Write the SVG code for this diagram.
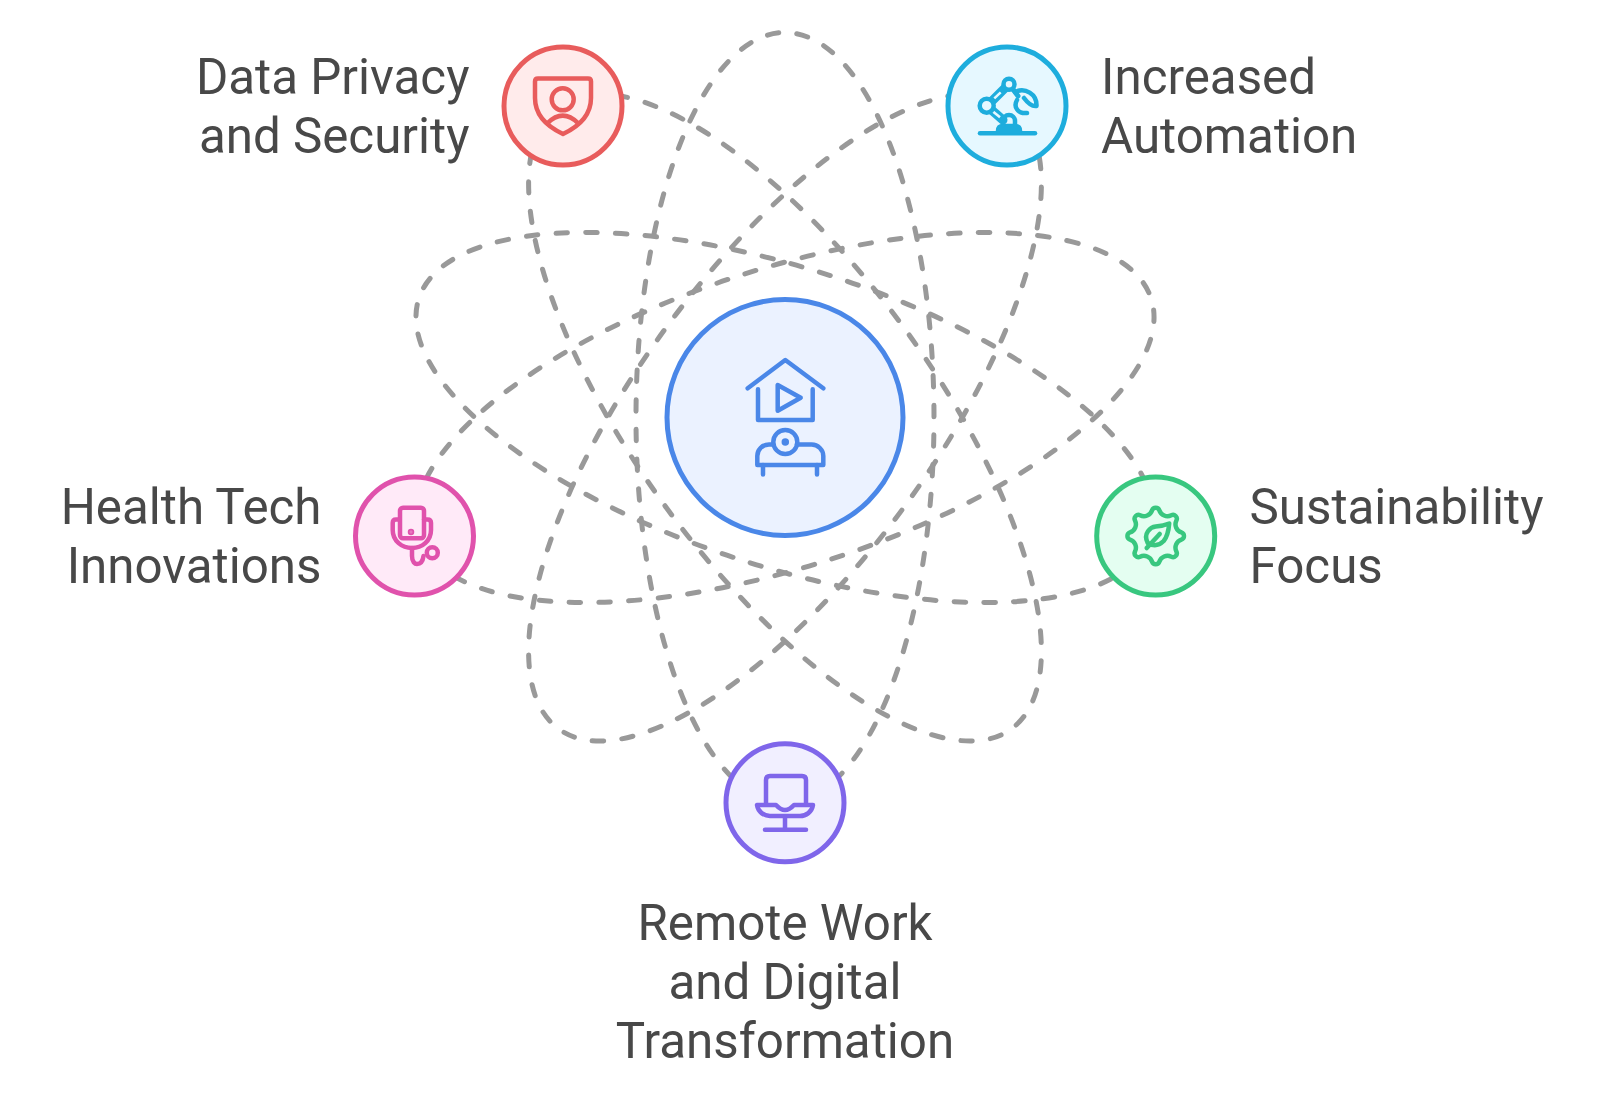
<svg xmlns="http://www.w3.org/2000/svg" width="1600" height="1100" viewBox="0 0 1600 1100">
<style>
.orbit{fill:none;stroke:#999;stroke-width:5;stroke-linecap:round;stroke-dasharray:11.5 18.2;stroke-dashoffset:-0.8}
.ic{fill:none;stroke-width:4.5;stroke-linecap:round;stroke-linejoin:round}
.lb{font-family:Roboto,"Liberation Sans",sans-serif;font-size:49.3px;fill:#484848}
.ci{stroke-width:5}
</style>
<rect width="1600" height="1100" fill="#fff"/>
<g id="connectors">
<ellipse class="orbit" cx="785" cy="417.5" rx="385" ry="149" transform="rotate(90 785 417.5)"/>
<ellipse class="orbit" cx="785" cy="417.5" rx="385" ry="149" transform="rotate(18 785 417.5)"/>
<ellipse class="orbit" cx="785" cy="417.5" rx="385" ry="149" transform="rotate(162 785 417.5)"/>
<ellipse class="orbit" cx="785" cy="417.5" rx="385" ry="149" transform="rotate(234 785 417.5)"/>
<ellipse class="orbit" cx="785" cy="417.5" rx="385" ry="149" transform="rotate(306 785 417.5)"/>
</g>
<g id="node-center">
<circle class="ci" cx="785" cy="417.5" r="118" fill="#EBF2FF" stroke="#4A87E8"/>
<g class="ic" stroke="#4A87E8">
<path d="M747.7,388.3 L785.3,360 L823.3,388.3"/>
<path d="M758,389.3 V420 H812.7 V389.3"/>
<path d="M777.7,385 V410.7 L800.7,397.7 Z"/>
<circle cx="785.3" cy="442" r="12"/>
<circle cx="785.3" cy="442" r="1.5" fill="#4A87E8"/>
<path d="M773,444.5 H769 C762,444.5 757.3,450 757.3,456 V465 H823.3 V456 C823.3,450 818,444.5 811.7,444.5 H797"/>
<path d="M763,465 V474.5 M817,465 V474.5"/>
</g>
</g>
<g id="node-data-privacy">
<circle class="ci" cx="563" cy="106" r="59" fill="#FFEBEB" stroke="#E85C5C"/>
<g class="ic" stroke="#E85C5C">
<path d="M538,78.5 H588 Q591,78.5 591,81.5 V98 C591,115 580,126 563,134 C546,126 535,115 535,98 V81.5 Q535,78.5 538,78.5 Z"/>
<circle cx="562.7" cy="99.3" r="11"/>
<path d="M547.3,123.3 Q562.7,108 578.3,123.3"/>
</g>
<text class="lb" text-anchor="end" x="469.5" y="94">Data Privacy</text>
<text class="lb" text-anchor="end" x="469.5" y="153">and Security</text>
</g>
<g id="node-automation">
<circle class="ci" cx="1007" cy="106" r="59" fill="#E6F8FF" stroke="#1EADDD"/>
<g class="ic" stroke="#1EADDD">
<path d="M980,133.3 H1035"/>
<path d="M998,131 Q998,126 1003,126 H1015 Q1020,126 1020,131 Z" fill="#1EADDD"/>
<path d="M1003,125 V121 A6,6 0 0 1 1015,121 V125"/>
<path d="M987,106 L1009,84" stroke-width="9"/>
<path d="M987,106 L1003,120" stroke-width="9"/>
<path d="M994.3,98.3 L1000.7,92.3 M992.3,111 L1000,117.3" stroke="#E6F8FF" stroke-width="2.5" stroke-linecap="butt"/>
<path d="M1009,84 L1018,96" stroke-width="5"/>
<circle cx="986.7" cy="105.7" r="7" fill="#E6F8FF"/>
<circle cx="1009" cy="84.3" r="5.5" fill="#E6F8FF"/>
<path d="M1015,92 C1025,87 1037,94 1036.5,106 C1031,107 1027,102 1024,98"/>
<path d="M1017,100 C1013,107 1018,114 1027,113"/>
</g>
<text class="lb" x="1101" y="94">Increased</text>
<text class="lb" x="1101" y="153">Automation</text>
</g>
<g id="node-sustainability">
<circle class="ci" cx="1155.7" cy="536" r="59" fill="#E4FEF1" stroke="#38C77F"/>
<g class="ic" stroke="#38C77F" transform="translate(1155.7 536)">
<path d="M25.7,-3.6 A3.8,3.8 0 0 1 25.7,3.6 A8.6,8.6 0 0 0 20.7,15.6 A3.8,3.8 0 0 1 15.6,20.7 A8.6,8.6 0 0 0 3.6,25.7 A3.8,3.8 0 0 1 -3.6,25.7 A8.6,8.6 0 0 0 -15.6,20.7 A3.8,3.8 0 0 1 -20.7,15.6 A8.6,8.6 0 0 0 -25.7,3.6 A3.8,3.8 0 0 1 -25.7,-3.6 A8.6,8.6 0 0 0 -20.7,-15.6 A3.8,3.8 0 0 1 -15.6,-20.7 A8.6,8.6 0 0 0 -3.6,-25.7 A3.8,3.8 0 0 1 3.6,-25.7 A8.6,8.6 0 0 0 15.6,-20.7 A3.8,3.8 0 0 1 20.7,-15.6 A8.6,8.6 0 0 0 25.7,-3.6 Z"/>
<path d="M-8,7 C-13,-3 -5,-9 0,-9.5 C6,-10 10,-11 13.5,-12.5 C13,-6 12,0 8,5 C3,10 -3,10 -8,7 Z"/>
<path d="M-9,12 L4,-2"/>
</g>
<text class="lb" x="1249.5" y="524">Sustainability</text>
<text class="lb" x="1249.5" y="583">Focus</text>
</g>
<g id="node-health">
<circle class="ci" cx="414.5" cy="536" r="59" fill="#FFEAF8" stroke="#E052AC"/>
<g class="ic" stroke="#E052AC">
<rect x="400" y="507.7" width="24" height="30.6" rx="3"/>
<circle cx="411" cy="532" r="1" fill="#E052AC"/>
<path d="M399,519.5 H396 Q392.7,519.5 392.7,523 V530 C392.7,541 402,548 412,548 C422,548 431,541 431,530 V523 Q431,519.5 427.5,519.5 H424"/>
<path d="M412,548 V556 C412,562 415,564 417,564 C422,564 423,560 423.5,556"/>
<circle cx="432.3" cy="552.7" r="5.5"/>
</g>
<text class="lb" text-anchor="end" x="321.5" y="524">Health Tech</text>
<text class="lb" text-anchor="end" x="321.5" y="583">Innovations</text>
</g>
<g id="node-remote">
<circle class="ci" cx="785" cy="802.7" r="59" fill="#F1EFFF" stroke="#7F66EA"/>
<g class="ic" stroke="#7F66EA">
<path d="M766,804 V780 Q766,776 770,776 H802 Q806,776 806,780 V804"/>
<path d="M757,805 H776 Q785,815 794,805 H813 C812,812 806,816 800,816 H770 C764,816 758,812 757,805 Z"/>
<path d="M785,817 V828 M765,829.7 H806"/>
</g>
<text class="lb" text-anchor="middle" x="785" y="939.5">Remote Work</text>
<text class="lb" text-anchor="middle" x="785" y="998.5">and Digital</text>
<text class="lb" text-anchor="middle" x="785" y="1057.5">Transformation</text>
</g>
</svg>
